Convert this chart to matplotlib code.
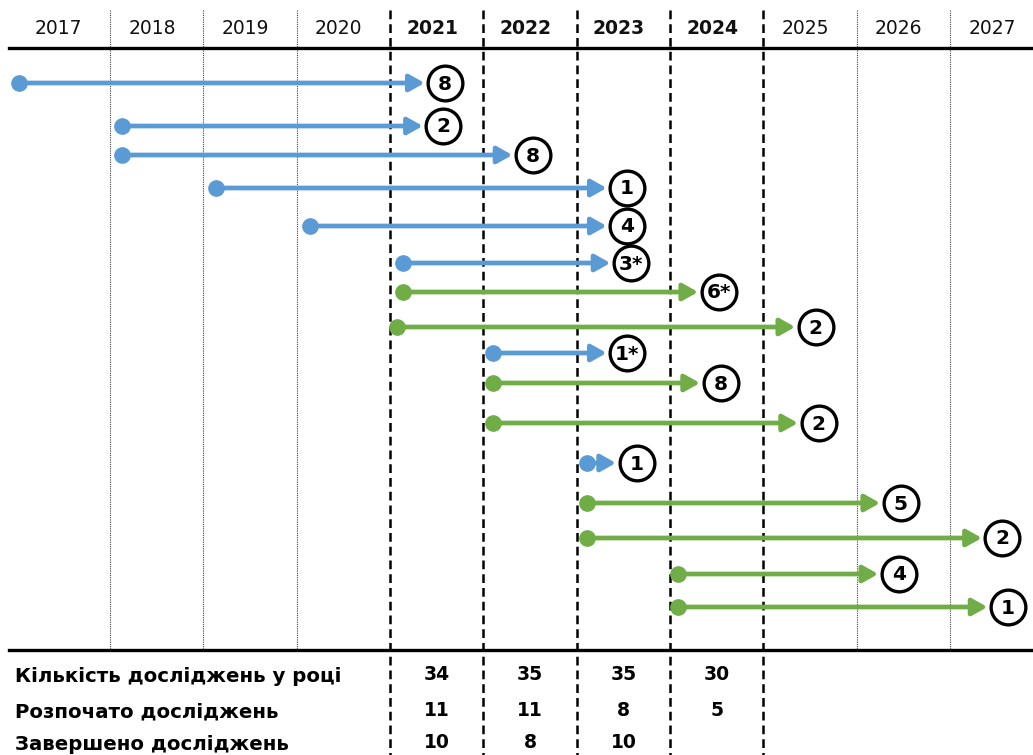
import matplotlib
matplotlib.use("Agg")
import matplotlib.pyplot as plt

# --- data ---
years = [2017, 2018, 2019, 2020, 2021, 2022, 2023, 2024, 2025, 2026, 2027]
bold_years = [2021, 2022, 2023, 2024]

# each study: start (decimal year), end of arrow (decimal year), label, kind
starts = [2017.02, 2018.13, 2018.13, 2019.13, 2020.14, 2021.14, 2021.14, 2021.07,
          2022.10, 2022.10, 2022.10, 2023.11, 2023.11, 2023.11, 2024.08, 2024.08]
ends = [2021.37, 2021.35, 2022.31, 2023.32, 2023.32, 2023.36, 2024.30, 2025.34,
        2023.32, 2024.32, 2025.37, 2023.42, 2026.25, 2027.34, 2026.23, 2027.40]
labels = ["8", "2", "8", "1", "4", "3*", "6*", "2",
          "1*", "8", "2", "1", "5", "2", "4", "1"]
kinds = ["done", "done", "done", "done", "done", "done", "open", "open",
         "done", "open", "open", "done", "open", "open", "open", "open"]

table_rows = ["Кількість досліджень у році", "Розпочато досліджень", "Завершено досліджень"]
table_years = [2021, 2022, 2023, 2024]
table_vals = [["34", "35", "35", "30"],
              ["11", "11", "8", "5"],
              ["10", "8", "10", ""]]

# --- layout (pixel rows, figure is 1033x755) ---
row_y = [83, 126, 155, 188, 226, 263, 292, 327, 353, 383, 423, 463, 503, 538, 574, 607]
table_y = [677, 712, 744]
colors = {"done": "#5B9BD5", "open": "#70AD47"}

plt.rcParams['font.family'] = ['DejaVu Sans']

fig = plt.figure(figsize=(10.33, 7.55), dpi=100)
ax = fig.add_axes([0, 0, 1, 1])
x0 = 2017 - 0.18
ax.set_xlim(x0, x0 + 1033 / 93.33)
ax.set_ylim(755, 0)
ax.axis('off')

# vertical separators
for yr in years[1:]:
    if yr in bold_years or yr == 2025:
        ax.plot([yr, yr], [10, 755], color='black', lw=1.8,
                linestyle=(0, (3.5, 2)), zorder=1)
    else:
        ax.plot([yr, yr], [10, 650], color='#444444', lw=0.8,
                linestyle=(0, (1, 1)), zorder=1)

# horizontal rules
ax.plot([2016.92, x0 + 12], [48, 48], color='black', lw=2.4, zorder=2)
ax.plot([2016.92, x0 + 12], [650, 650], color='black', lw=2.4, zorder=2)

# year headers
for yr in years:
    ax.text(yr + 0.45, 29, str(yr), ha='center', va='center', fontsize=13.5,
            fontweight='bold' if yr in bold_years else 'normal', color='#111111')

# arrows
for s, e, lab, k, y in zip(starts, ends, labels, kinds, row_y):
    c = colors[k]
    ax.annotate('', xy=(e, y), xytext=(s, y),
                arrowprops=dict(arrowstyle='-|>,head_length=0.5,head_width=0.28',
                                color=c, lw=3.4, mutation_scale=18,
                                shrinkA=0, shrinkB=0), zorder=3)
    ax.plot(s, y, 'o', ms=11, color=c, zorder=4)
    lx = e + 0.22
    ax.plot(lx, y, 'o', ms=25, mfc='white', mec='black', mew=2.4, zorder=5)
    ax.text(lx, y + 1, lab, ha='center', va='center', fontsize=14.5,
            fontweight='bold', zorder=6)

# summary table
for name, vals, y in zip(table_rows, table_vals, table_y):
    ax.text(2017 - 0.02, y, name, ha='left', va='center', fontsize=14.2,
            fontweight='bold')
    for yr, v in zip(table_years, vals):
        ax.text(yr + 0.5, y - 2, v, ha='center', va='center', fontsize=13.5,
                fontweight='bold')

fig.savefig("out.png", dpi=100)
plt.close()
